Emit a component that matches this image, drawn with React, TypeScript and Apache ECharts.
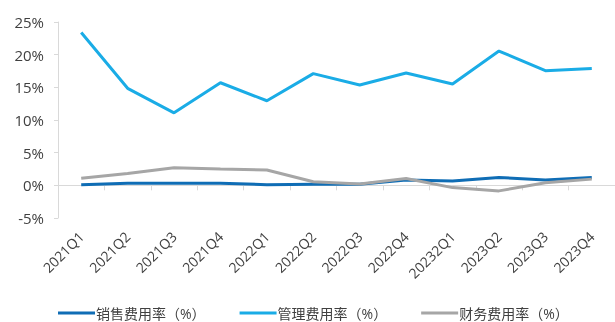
import React, { useEffect, useRef } from "react";
import * as echarts from "echarts";

const categories = ["2021Q1", "2021Q2", "2021Q3", "2021Q4", "2022Q1", "2022Q2", "2022Q3", "2022Q4", "20232Q1", "2023Q2", "2023Q3", "2023Q4"];
const salesRate = [0.1, 0.3, 0.3, 0.3, 0.1, 0.15, 0.15, 0.8, 0.65, 1.2, 0.8, 1.2];
const adminRate = [23.4, 14.85, 11.1, 15.7, 12.95, 17.1, 15.35, 17.2, 15.5, 20.55, 17.55, 17.9];
const financeRate = [1.07, 1.8, 2.7, 2.5, 2.35, 0.55, 0.2, 1.05, -0.35, -0.85, 0.4, 0.95];
const seriesNames = ["销售费用率（%）", "管理费用率（%）", "财务费用率（%）"];

export default function App() {
  const ref = useRef<HTMLDivElement>(null);
  useEffect(() => {
    const chart = echarts.init(ref.current!, null, { renderer: "svg" });
    const font = "'Open Sans', 'Noto Sans CJK SC', sans-serif";
    chart.setOption({
      animation: false,
      textStyle: { fontFamily: font },
      grid: { left: 58, top: 22, right: -6, bottom: 104, containLabel: false },
      legend: {
        left: 58,
        top: 305,
        padding: 0,
        icon: "rect",
        itemWidth: 37,
        itemHeight: 3,
        itemGap: 34,
        textStyle: { fontSize: 14, lineHeight: 16, color: "#404040", fontFamily: font, padding: [0, 0, 0, -4] },
        data: seriesNames,
      },
      xAxis: {
        type: "category",
        data: categories,
        boundaryGap: true,
        axisLine: { show: true, lineStyle: { color: "#d9d9d9", width: 1 } },
        axisTick: { show: true, length: 5, lineStyle: { color: "#d9d9d9" } },
        axisLabel: { rotate: 45, fontSize: 14, color: "#404040", margin: 16, interval: 0 },
        splitLine: { show: false },
      },
      yAxis: {
        type: "value",
        min: -5,
        max: 25,
        interval: 5,
        axisLine: { show: true, lineStyle: { color: "#d9d9d9", width: 1 } },
        axisTick: { show: true, length: 4, lineStyle: { color: "#d9d9d9" } },
        axisLabel: { formatter: "{value}%", fontSize: 15, color: "#404040", margin: 14 },
        splitLine: { show: false },
      },
      series: [
        {
          name: seriesNames[0],
          type: "line",
          data: salesRate,
          symbol: "none",
          lineStyle: { width: 3, color: "#0f6db5" },
          itemStyle: { color: "#0f6db5" },
          z: 3,
        },
        {
          name: seriesNames[1],
          type: "line",
          data: adminRate,
          symbol: "none",
          lineStyle: { width: 3, color: "#1aace6" },
          itemStyle: { color: "#1aace6" },
        },
        {
          name: seriesNames[2],
          type: "line",
          data: financeRate,
          symbol: "none",
          lineStyle: { width: 3, color: "#a6a6a6" },
          itemStyle: { color: "#a6a6a6" },
        },
      ],
    });
    return () => chart.dispose();
  }, []);
  return <div ref={ref} style={{ position: "fixed", left: 0, top: 0, width: 615, height: 322 }} />;
}
